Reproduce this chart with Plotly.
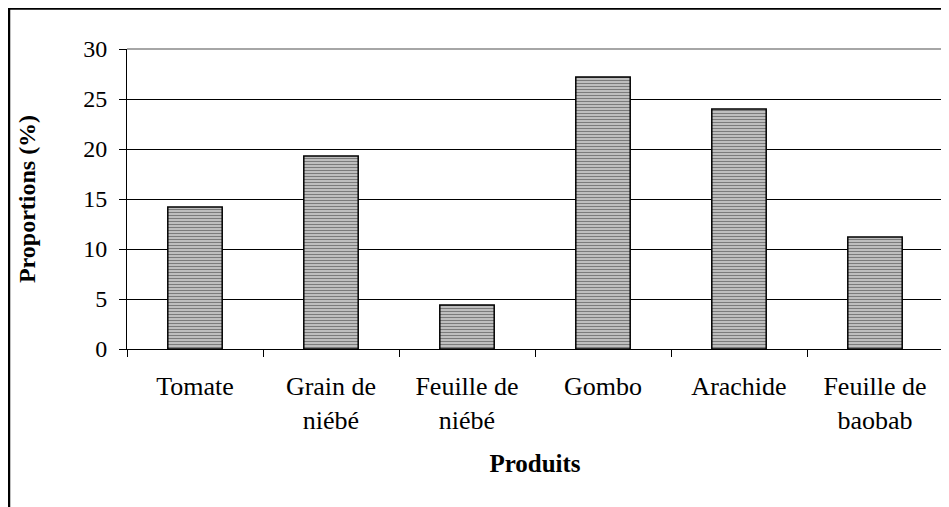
import plotly.graph_objects as go

categories = ["Tomate", "Grain de<br>niébé", "Feuille de<br>niébé", "Gombo", "Arachide", "Feuille de<br>baobab"]
proportions = [14.2, 19.3, 4.4, 27.2, 24.0, 11.2]
y_ticks = [0, 5, 10, 15, 20, 25, 30]

FONT = "'Times New Roman', 'Liberation Serif', 'DejaVu Serif', serif"

fig = go.Figure()
fig.add_trace(go.Bar(
    x=categories,
    y=proportions,
    width=0.4,
    marker=dict(
        color="#c8c8c8",
        line=dict(color="black", width=1.5),
        pattern=dict(shape="-", fgcolor="#2a2a2a", bgcolor="#cccccc", size=3, solidity=0.45),
    ),
    showlegend=False,
))

# page body has an 8px margin; size/margins compensate so the plot area lands where the reference has it
fig.update_layout(
    width=941, height=499,
    margin=dict(l=119, r=6, t=41, b=158),
    paper_bgcolor="white", plot_bgcolor="white",
    font=dict(family=FONT, size=24, color="black"),
    xaxis=dict(
        type="category",
        showgrid=False,
        showline=True, linecolor="black", linewidth=1,
        ticks="outside", tickson="boundaries", ticklen=7, tickcolor="black",
        tickfont=dict(family=FONT, size=26, color="black"),
        ticklabelstandoff=14,
        title=dict(text="<b>Produits</b>", font=dict(family=FONT, size=25), standoff=20),
    ),
    yaxis=dict(
        range=[0, 30],
        tickvals=y_ticks,
        showgrid=True, gridcolor="black", gridwidth=1,
        showline=True, linecolor="black", linewidth=1,
        ticks="outside", ticklen=7, tickcolor="black",
        tickfont=dict(family=FONT, size=24, color="black"),
        ticklabelstandoff=7,
        zeroline=False,
        title=dict(text="<b>Proportions (%)</b>", font=dict(family=FONT, size=24), standoff=40),
    ),
    shapes=[
        dict(type="line", xref="paper", yref="paper", x0=0, x1=1, y0=1, y1=1,
             line=dict(color="#888888", width=1.5), layer="above"),
        dict(type="line", xref="paper", yref="paper", x0=1, x1=1, y0=0, y1=1,
             line=dict(color="#888888", width=1.5), layer="above"),
        # outer chart frame (top and left edges)
        dict(type="line", xref="paper", yref="paper", x0=-119/816, x1=1.1, y0=(300+41-0.5)/300, y1=(300+41-0.5)/300,
             line=dict(color="black", width=2.5)),
        dict(type="line", xref="paper", yref="paper", x0=-118/816, x1=-118/816, y0=(300+41)/300, y1=-0.6,
             line=dict(color="black", width=2.5)),
    ],
)

fig.write_html("out.html")
